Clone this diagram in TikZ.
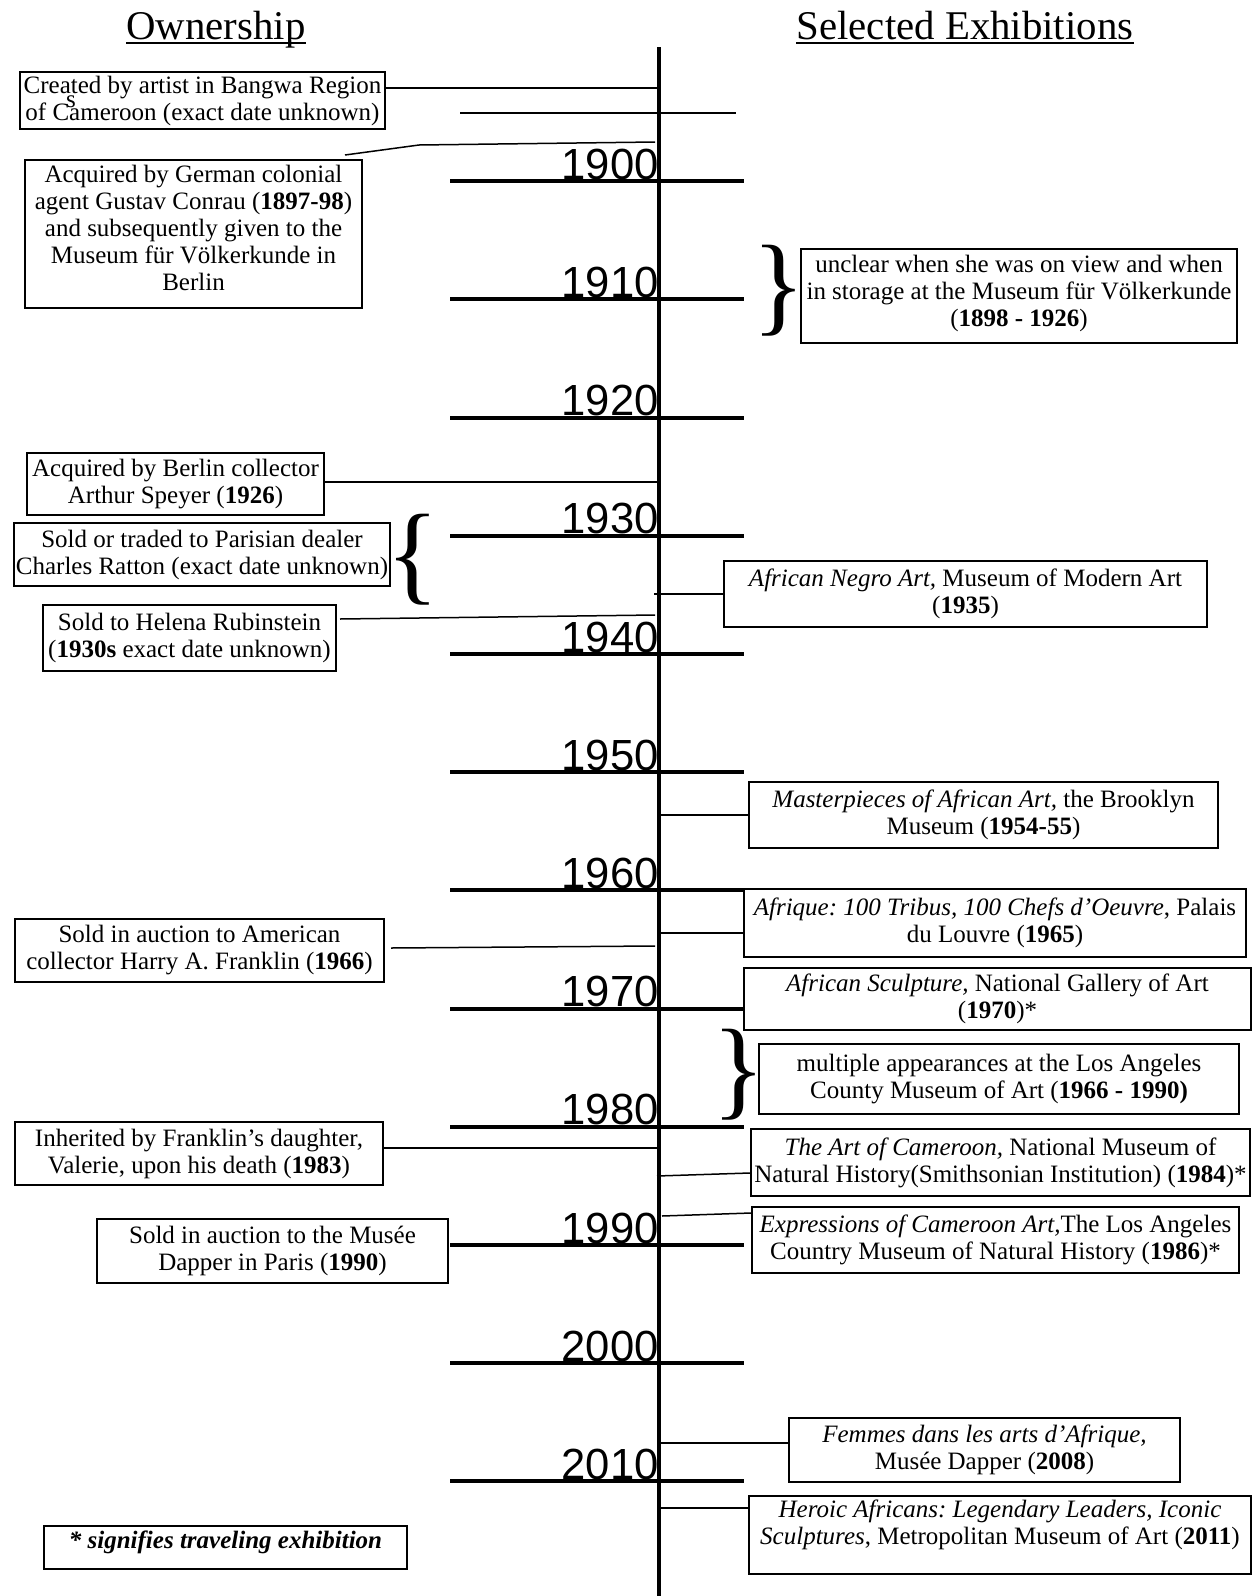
\documentclass[tikz,border=0pt]{standalone}
\usepackage{fontspec}
\setmainfont{Liberation Serif}
\newfontfamily\yearfont{Liberation Sans}
\frenchspacing
\usepackage{tikz}
\usetikzlibrary{positioning,calc}
\tikzstyle{OwnershipBox} =[draw,line width=1pt,align=center,inner sep=0pt,font=\fontsize{12.5}{13.5}\selectfont]
\tikzstyle{ExhibitionBox} =[OwnershipBox]
\tikzstyle{DecadeTick} =[line width=2pt]
\tikzstyle{YearLabel} =[anchor=base east,inner sep=0pt,font=\yearfont\fontsize{21.8}{22}\selectfont]
\tikzstyle{ColumnTitle} =[anchor=base,inner sep=0pt,font=\fontsize{20.4}{22}\selectfont]
\tikzstyle{Link} =[line width=0.75pt]
\tikzstyle{BigBrace} =[inner sep=0pt,font=\fontsize{55}{55}\selectfont]

\begin{document}
\begin{tikzpicture}[x=0.5pt,y=-0.5pt]
    \useasboundingbox (0,0) rectangle (1253,1596);

    % column titles
    \node[ColumnTitle](Ownership-Title) at (216,39){Ownership};
    \node[ColumnTitle](Exhibitions-Title) at (965,39){Selected Exhibitions};
    \draw[line width=0.75pt] ([yshift=-2pt]Ownership-Title.base west) -- ([yshift=-2pt]Ownership-Title.base east);
    \draw[line width=0.75pt] ([yshift=-2pt]Exhibitions-Title.base west) -- ([yshift=-2pt]Exhibitions-Title.base east);

    % time axis
    \coordinate (Axis-Top) at (659,47);
    \coordinate (Axis-Bottom) at (659,1596);
    \draw[line width=1.75pt] (Axis-Top) -- (Axis-Bottom);
    \foreach \yr [count=\k from 0] in {1900,1910,...,2010}{
        \draw[DecadeTick] (450,181.2+118.2*\k) -- (744,181.2+118.2*\k);
        \node[YearLabel](Year-\yr) at (659,179.2+118.2*\k){\yr};
    }

    % ownership
    \node[OwnershipBox,minimum width=182.5pt,minimum height=28.5pt](Created-Bangwa) at (202.5,100.5){Created by artist in Bangwa Region\\of Cameroon (exact date unknown)};
    \node[inner sep=0pt,font=\fontsize{12.5}{13.5}\selectfont](Stray-S) at (71,102){s};
    \node[OwnershipBox,minimum width=168.5pt,minimum height=74pt](Conrau-Acquired) at (193.5,234){Acquired by German colonial\\agent Gustav Conrau (\textbf{1897-98})\\and subsequently given to the\\Museum für Völkerkunde in\\Berlin\rule[-6pt]{0pt}{0pt}};
    \node[OwnershipBox,minimum width=148.5pt,minimum height=31pt](Speyer-Acquired) at (175.5,484){Acquired by Berlin collector\\Arthur Speyer (\textbf{1926})};
    \node[OwnershipBox,minimum width=188pt,minimum height=31.5pt](Ratton-Sold) at (202,554.5){Sold or traded to Parisian dealer\\Charles Ratton (exact date unknown)};
    \node[OwnershipBox,minimum width=146.5pt,minimum height=33pt](Rubinstein-Sold) at (189.5,638){Sold to Helena Rubinstein\\(\textbf{1930s} exact date unknown)};
    \node[OwnershipBox,minimum width=184.5pt,minimum height=31.5pt](Franklin-Sold) at (199.5,950.5){Sold in auction to American\\collector Harry A. Franklin (\textbf{1966})};
    \node[OwnershipBox,minimum width=184pt,minimum height=31.5pt](Valerie-Inherited) at (199,1153.5){Inherited by Franklin’s daughter,\\Valerie, upon his death (\textbf{1983})};
    \node[OwnershipBox,minimum width=175.5pt,minimum height=32pt](Dapper-Sold) at (272.5,1251){Sold in auction to the Musée\\Dapper in Paris (\textbf{1990})};
    \node[OwnershipBox,minimum width=181.5pt,minimum height=21.5pt](Traveling-Note) at (225.5,1547.5){\textbf{\textit{* signifies traveling exhibition}}\rule[-7.5pt]{0pt}{0pt}};
    \node[BigBrace](Ratton-Brace) at (413,560){\{};

    % exhibitions
    \node[ExhibitionBox,minimum width=218pt,minimum height=47pt](Berlin-Storage) at (1019,296){unclear when she was on view and when\\in storage at the Museum für Völkerkunde\\(\textbf{1898 - 1926})\rule[-5.5pt]{0pt}{0pt}};
    \node[BigBrace](Storage-Brace) at (779,291){\}};
    \node[ExhibitionBox,minimum width=241.5pt,minimum height=33pt](Negro-Art) at (965.5,594){\textit{African Negro Art,} Museum of Modern Art\\(\textbf{1935})};
    \node[ExhibitionBox,minimum width=234.5pt,minimum height=33pt](Brooklyn-Masterpieces) at (983.5,815){\textit{Masterpieces of African Art,} the Brooklyn\\Museum (\textbf{1954-55})};
    \node[ExhibitionBox,minimum width=251pt,minimum height=34pt](Louvre-Afrique) at (995,923){\textit{Afrique: 100 Tribus, 100 Chefs d’Oeuvre}, Palais\\du Louvre (\textbf{1965})};
    \node[ExhibitionBox,minimum width=253.5pt,minimum height=31pt](Gallery-Sculpture) at (997.5,999){\textit{African Sculpture,} National Gallery of Art\\(\textbf{1970})*};
    \node[ExhibitionBox,minimum width=240pt,minimum height=35pt](LACMA-Multiple) at (999,1079){multiple appearances at the Los Angeles\\County Museum of Art (\textbf{1966 - 1990)}};
    \node[BigBrace](LACMA-Brace) at (739,1075){\}};
    \node[ExhibitionBox,minimum width=249.5pt,minimum height=33.5pt](Smithsonian-Cameroon) at (1000.5,1162.5){\textit{The Art of Cameroon,} National Museum of\\Natural History(Smithsonian Institution) (\textbf{1984})*};
    \node[ExhibitionBox,minimum width=243.5pt,minimum height=33pt](LA-Expressions) at (995.5,1240){\textit{Expressions of Cameroon Art,}The Los Angeles\\Country Museum of Natural History (\textbf{1986})*};
    \node[ExhibitionBox,minimum width=195.5pt,minimum height=32pt](Dapper-Femmes) at (984.5,1450){\textit{Femmes dans les arts d’Afrique,}\\Musée Dapper (\textbf{2008})};
    \node[ExhibitionBox,minimum width=251pt,minimum height=39pt](Met-Heroic) at (1000,1535){\textit{Heroic Africans: Legendary Leaders, Iconic}\\\textit{Sculptures}, Metropolitan Museum of Art (\textbf{2011})\rule[-13pt]{0pt}{0pt}};

    % links to the axis
    \draw[Link] ([yshift=6.25pt]Created-Bangwa.east) -- ([yshift=6.25pt]Created-Bangwa.east -| Axis-Top);
    \draw[Link] (460,113) -- (736,113);
    \coordinate (Conrau-Bend) at (419,145);
    \coordinate (Conrau-End) at (655,142);
    \draw[Link] ([xshift=-9pt,yshift=2pt]Conrau-Acquired.north east) -- (Conrau-Bend) -- (Conrau-End);
    \draw[Link] ([yshift=1pt]Speyer-Acquired.east) -- ([yshift=1pt]Speyer-Acquired.east -| Axis-Top);
    \coordinate (Rubinstein-End) at (655,615);
    \draw[Link] ([xshift=1.5pt,yshift=9.5pt]Rubinstein-Sold.east) -- (Rubinstein-End);
    \coordinate (Franklin-End) at (655,946);
    \draw[Link] ([xshift=3pt,yshift=1.25pt]Franklin-Sold.east) -- (Franklin-End);
    \draw[Link] ([yshift=2.75pt]Valerie-Inherited.east) -- ([yshift=2.75pt]Valerie-Inherited.east -| Axis-Top);
    \draw[Link] ([xshift=-34.5pt]Negro-Art.west) -- (Negro-Art.west);
    \draw[Link] (Brooklyn-Masterpieces.west -| Axis-Top) -- (Brooklyn-Masterpieces.west);
    \draw[Link] ([yshift=-5pt]Louvre-Afrique.west -| Axis-Top) -- ([yshift=-5pt]Louvre-Afrique.west);
    \draw[Link] ([xshift=-46.5pt,yshift=-6.75pt]Smithsonian-Cameroon.west) -- ([yshift=-5.25pt]Smithsonian-Cameroon.west);
    \draw[Link] ([xshift=-44.5pt,yshift=12pt]LA-Expressions.west) -- ([yshift=13.5pt]LA-Expressions.west);
    \draw[Link] ([yshift=3.5pt]Dapper-Femmes.west -| Axis-Top) -- ([yshift=3.5pt]Dapper-Femmes.west);
    \draw[Link] ([yshift=13.5pt]Met-Heroic.west -| Axis-Top) -- ([yshift=13.5pt]Met-Heroic.west);
\end{tikzpicture}
\end{document}
